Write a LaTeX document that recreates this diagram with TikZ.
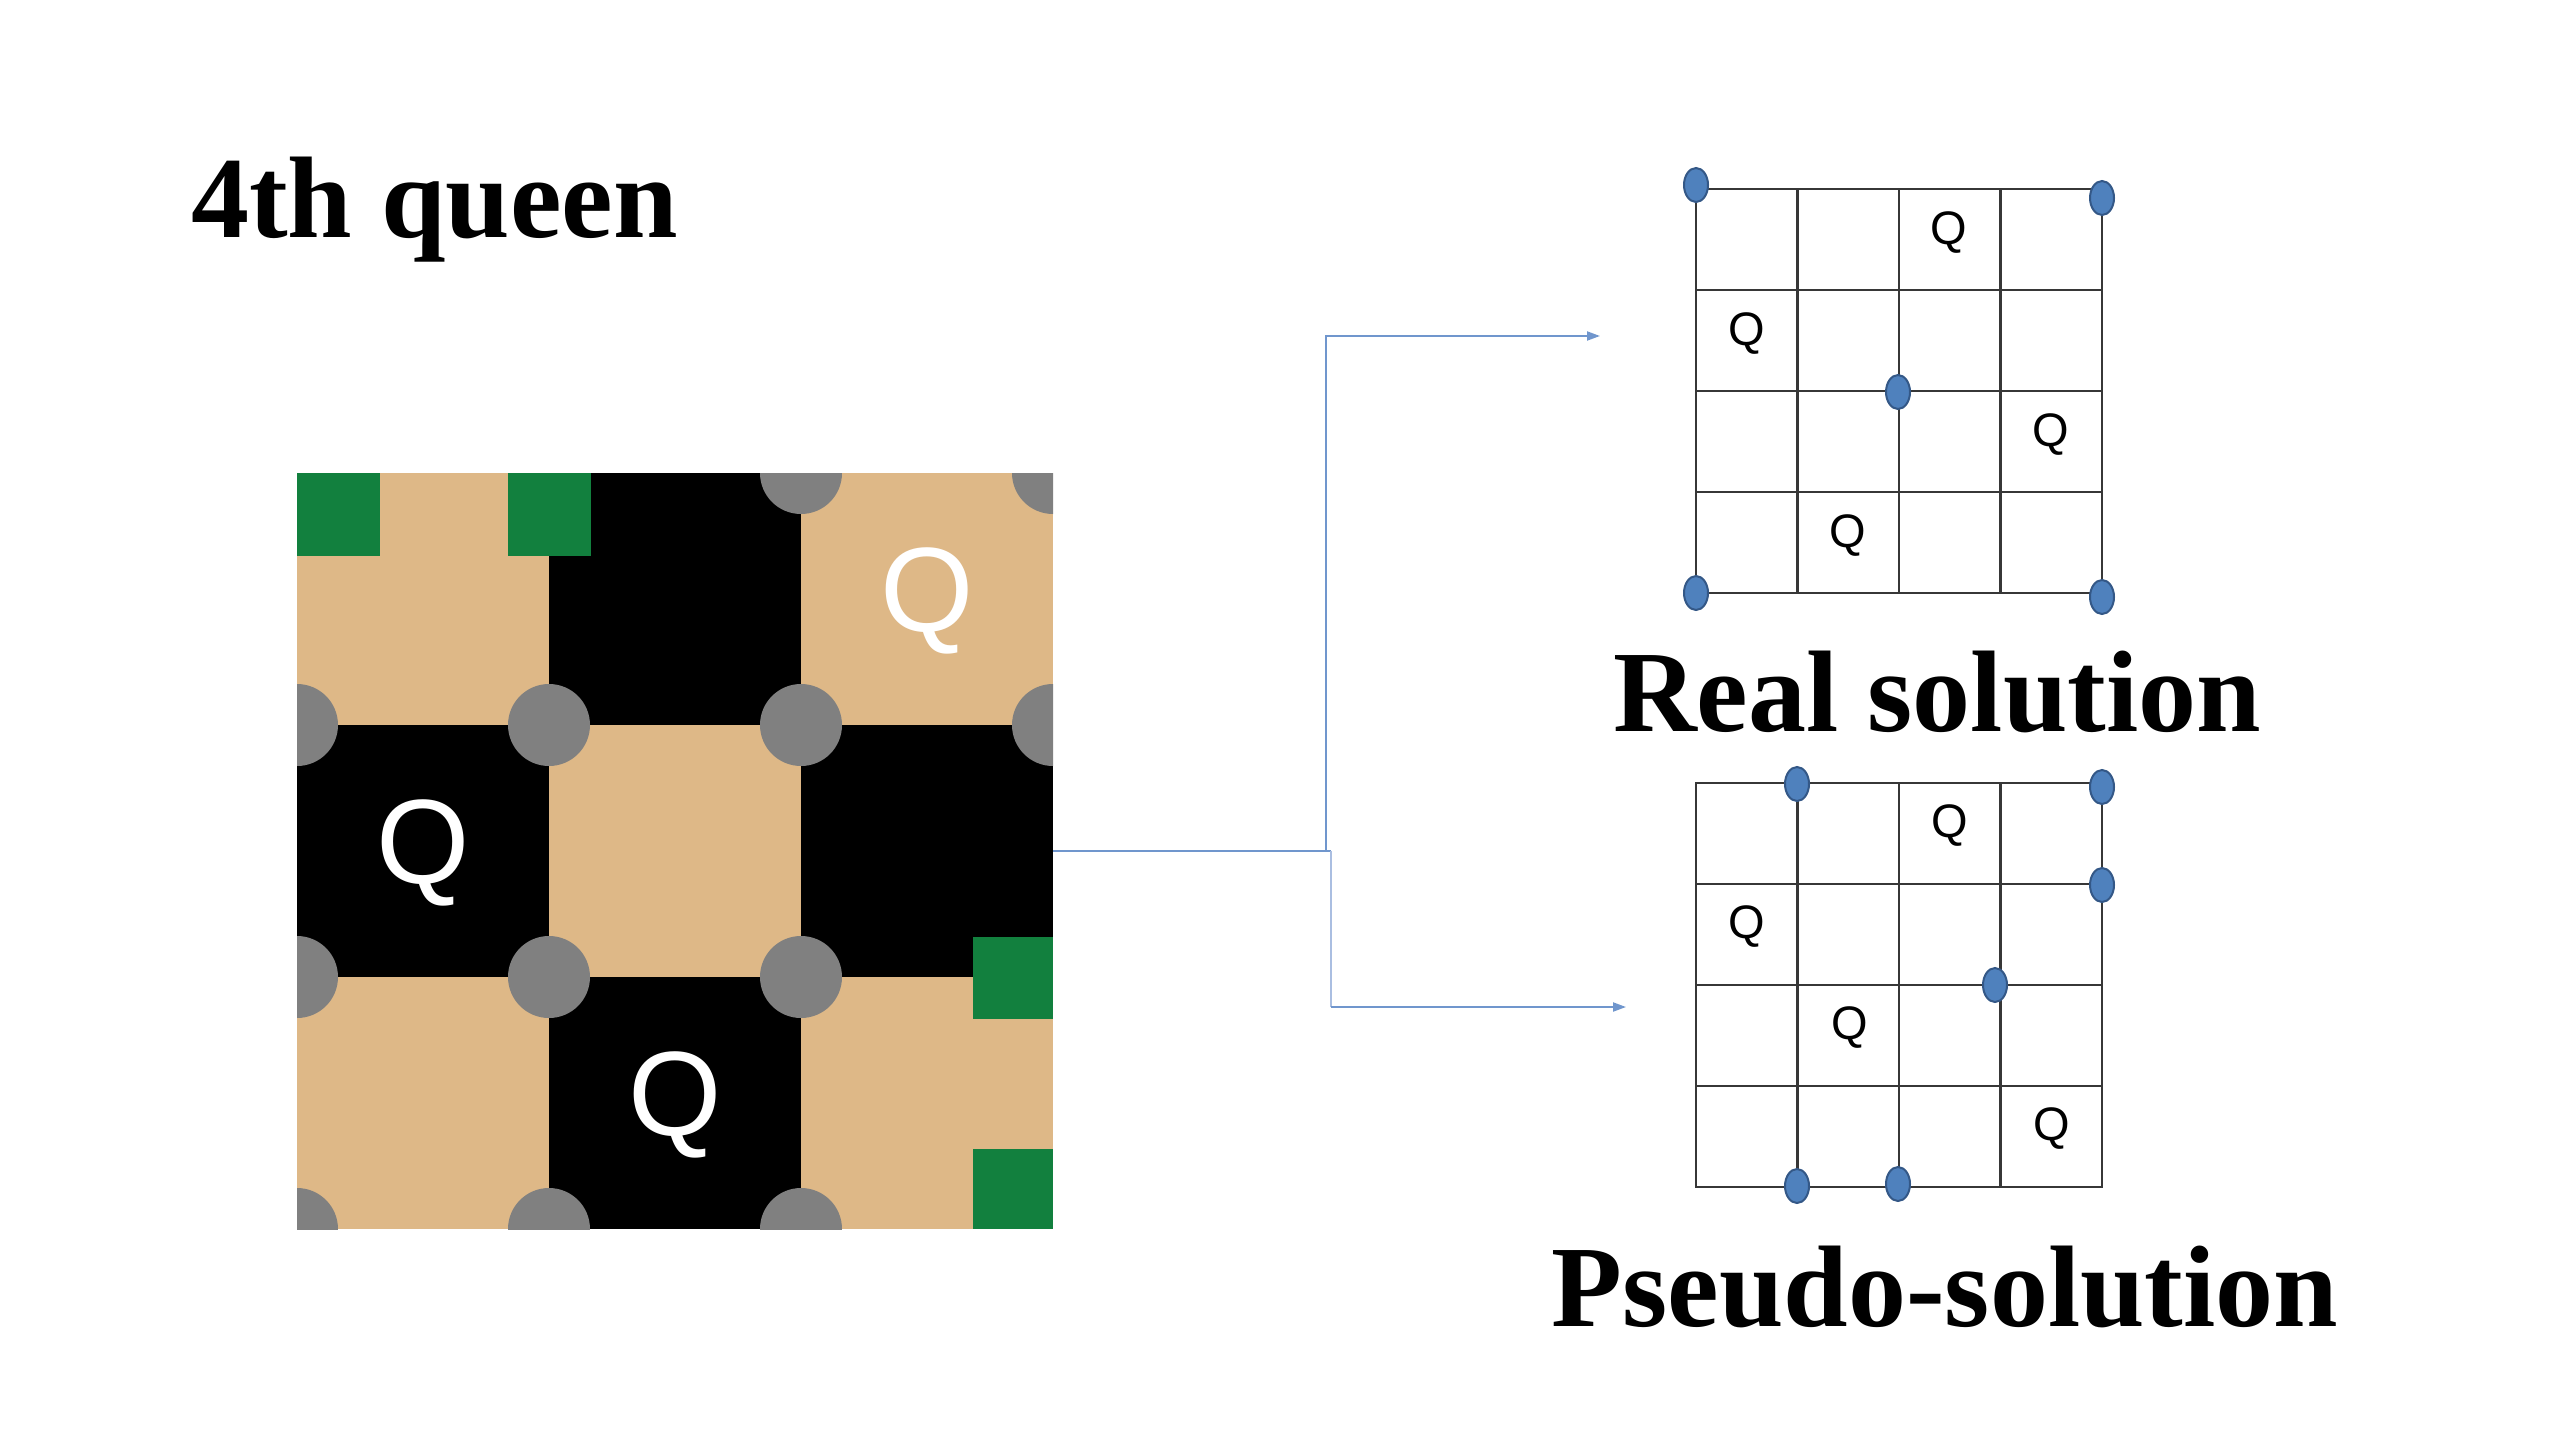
\documentclass[tikz,border=0pt]{standalone}
\usepackage{fontspec}
\setmainfont{Liberation Serif}
\newfontfamily\qfont{Liberation Sans}
\usetikzlibrary{arrows.meta,shapes.geometric}
\definecolor{boardtan}{RGB}{222,184,135}
\definecolor{boardgreen}{RGB}{18,128,62}
\definecolor{dotblue}{RGB}{79,129,189}
\definecolor{dotedge}{RGB}{52,88,135}
\definecolor{linkblue}{RGB}{112,150,205}
\definecolor{linkpale}{RGB}{170,190,225}
\definecolor{gridgray}{RGB}{55,55,55}
\definecolor{peg}{RGB}{128,128,128}
\begin{document}
\begin{tikzpicture}[x=1pt,y=-1pt,
  heading/.style={inner sep=0pt,font=\fontsize{116}{139}\selectfont\bfseries},
  bigq/.style={inner sep=0pt,text=white,font=\qfont\fontsize{120}{144}\selectfont},
  smallq/.style={inner sep=0pt,text=black,font=\qfont\fontsize{47}{56}\selectfont},
  gridbox/.style={draw=gridgray,line width=2.8pt,minimum width=406pt,minimum height=404pt,inner sep=0pt},
  gridline/.style={draw=gridgray,line width=2.8pt},
  dot/.style={ellipse,fill=dotblue,draw=dotedge,line width=2pt,minimum width=24pt,minimum height=34pt,inner sep=0pt},
  link/.style={draw=linkblue,line width=2pt},
  linklow/.style={draw=linkpale,line width=2pt},
  tip/.style={-{Triangle[length=13pt,width=9pt]}}
]
\fill[white] (0,0) rectangle (2560,1440);
\useasboundingbox (0,0) rectangle (2560,1440);

% title
\node[heading,anchor=base west] (title) at (191,237) {4th queen};

% board
\node[fill=boardtan,minimum size=756pt,inner sep=0pt] (board) at (675,851) {};
\begin{scope}
\clip (297,473) rectangle (1053,1229);
\fill[black] (549,473) rectangle (801,725);
\fill[black] (297,725) rectangle (549,977);
\fill[black] (801,725) rectangle (1053,977);
\fill[black] (549,977) rectangle (801,1229);
\foreach \p in {(801,473),(1053,473),(297,725),(549,725),(801,725),(1053,725),(297,977),(549,977),(801,977),(297,1229),(549,1229),(801,1229)}
  \fill[peg] \p circle[radius=41];
\fill[boardgreen] (297,473) rectangle (380,556);
\fill[boardgreen] (508,473) rectangle (591,556);
\fill[boardgreen] (973,937) rectangle (1053,1019);
\fill[boardgreen] (973,1149) rectangle (1053,1229);
\end{scope}
\node[bigq] (bq1) at (927,601) {Q};
\node[bigq] (bq2) at (423,853) {Q};
\node[bigq] (bq3) at (675,1105) {Q};

% real solution grid
\node[gridbox] (realgrid) at (1899,391) {};
\foreach \i in {1,2,3} {
  \draw[gridline] ({1696+101.5*\i},189) -- ({1696+101.5*\i},593);
  \draw[gridline] (1696,{189+101*\i}) -- (2102,{189+101*\i});
}
\node[smallq] (rq1) at (1949,233) {Q};
\node[smallq] (rq2) at (1747,334) {Q};
\node[smallq] (rq3) at (2051,435) {Q};
\node[smallq] (rq4) at (1848,536) {Q};
\node[dot] (rd1) at (1696,185) {};
\node[dot] (rd2) at (2102,198) {};
\node[dot] (rd3) at (1898,392) {};
\node[dot] (rd4) at (1696,593) {};
\node[dot] (rd5) at (2102,597) {};
\node[heading,anchor=base] (reallab) at (1937,731) {Real solution};

% pseudo-solution grid
\node[gridbox] (pseudogrid) at (1899,985) {};
\foreach \i in {1,2,3} {
  \draw[gridline] ({1696+101.5*\i},783) -- ({1696+101.5*\i},1187);
  \draw[gridline] (1696,{783+101*\i}) -- (2102,{783+101*\i});
}
\node[smallq] (pq1) at (1950,826) {Q};
\node[smallq] (pq2) at (1747,927) {Q};
\node[smallq] (pq3) at (1850,1028) {Q};
\node[smallq] (pq4) at (2052,1129) {Q};
\node[dot] (pd1) at (1797,784) {};
\node[dot] (pd2) at (2102,787) {};
\node[dot] (pd3) at (2102,885) {};
\node[dot] (pd4) at (1995,985) {};
\node[dot] (pd5) at (1797,1186) {};
\node[dot] (pd6) at (1898,1184) {};
\node[heading,anchor=base] (pseudolab) at (1945,1326) {Pseudo-solution};

% connectors
\coordinate (jA) at (1326,851);
\coordinate (jB) at (1331,851);
\coordinate (realend) at (1600,336);
\coordinate (pseudoend) at (1626,1007);
\draw[link,tip] (board.east) -- (jA) |- (realend);
\draw[link] (jA) -- (jB);
\draw[linklow] (jB) -- (1331,1007);
\draw[link,tip] (1331,1007) -- (pseudoend);
\end{tikzpicture}
\end{document}
